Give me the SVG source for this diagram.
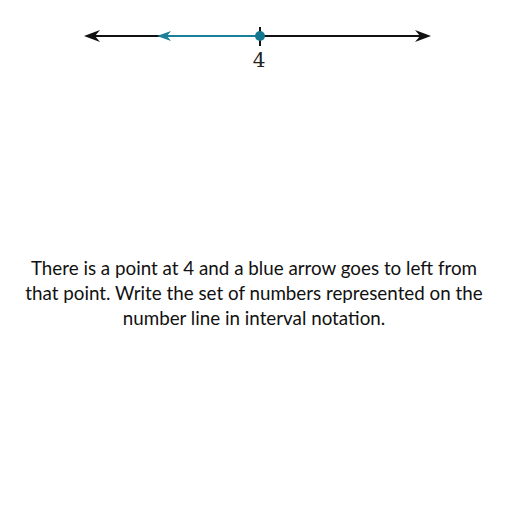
<svg xmlns="http://www.w3.org/2000/svg" width="512" height="512" viewBox="0 0 512 512">
<style>
.cap{font-family:Lato,"Noto Sans","Liberation Sans",sans-serif;font-size:18.8px;fill:#111;text-anchor:middle}
.num{font-family:"DejaVu Serif","Liberation Serif",serif;font-size:20px;fill:#222;text-anchor:middle}
</style>
<rect width="512" height="512" fill="#fff"/>
<g id="connectors">
<line x1="92" y1="36" x2="423" y2="36" stroke="#111" stroke-width="2"/>
<path d="M84,36 L100,30 L95,36 L100,42 Z" fill="#111"/>
<path d="M431,36 L415,30 L420,36 L415,42 Z" fill="#111"/>
<line x1="164" y1="36" x2="260" y2="36" stroke="#1a7f99" stroke-width="2.2"/>
<path d="M157,36 L171,31 L167,36 L171,41 Z" fill="#1a7f99"/>
<line x1="260" y1="27" x2="260" y2="46" stroke="#111" stroke-width="2"/>
</g>
<g id="point4">
<circle cx="260" cy="36" r="5" fill="#11788f"/>
<text class="num" x="259" y="67">4</text>
</g>
<g id="caption">
<text class="cap" x="254" y="275">There is a point at 4 and a blue arrow goes to left from</text>
<text class="cap" x="254" y="300">that point. Write the set of numbers represented on the</text>
<text class="cap" x="254" y="325">number line in interval notation.</text>
</g>
</svg>
